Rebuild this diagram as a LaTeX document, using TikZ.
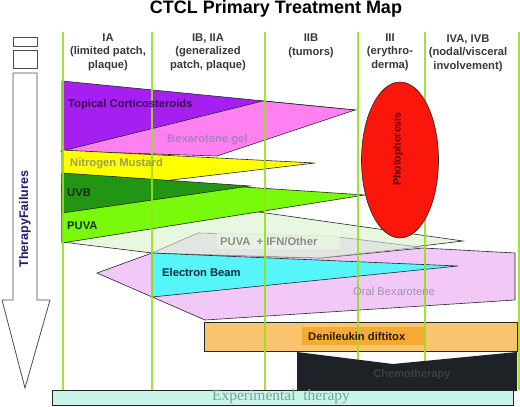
\documentclass[tikz,border=0pt]{standalone}
\usepackage{fontspec}
\setmainfont{Liberation Sans}
\newfontfamily\expfont{Liberation Serif}
\usepackage{xcolor}
\usepackage{tikz}
\usetikzlibrary{positioning}

\definecolor{gridgreen}{RGB}{150,225,30}
\definecolor{cortviolet}{RGB}{165,32,240}
\definecolor{gelpink}{RGB}{255,128,240}
\definecolor{mustyellow}{RGB}{255,255,0}
\definecolor{uvbgreen}{RGB}{34,150,20}
\definecolor{puvalime}{RGB}{120,250,10}
\definecolor{ifnpale}{RGB}{232,247,224}
\definecolor{ifngray}{RGB}{226,229,226}
\definecolor{ebcyan}{RGB}{85,245,250}
\definecolor{oralpink}{RGB}{241,200,246}
\definecolor{denorange}{RGB}{251,196,110}
\definecolor{denlabel}{RGB}{246,170,52}
\definecolor{chemoblack}{RGB}{30,34,38}
\definecolor{expmint}{RGB}{200,245,232}
\definecolor{photored}{RGB}{250,22,10}

\tikzset{
    band/.style={draw=black!85, line width=0.6pt},
    stage/.style={align=center, font=\bfseries\fontsize{11.2}{13.5}\selectfont, text=black!78, inner sep=0pt},
    drug/.style={anchor=west, font=\bfseries\fontsize{11.2}{12}\selectfont, inner sep=0pt},
    gridline/.style={draw=gridgreen, line width=1.1pt, opacity=0.9}
}

\begin{document}
\begin{tikzpicture}[x=1pt, y=-1pt]
    \useasboundingbox (0,0) rectangle (520,407);

    % 1. Title and stage headers
    \node[font=\bfseries\fontsize{18}{20}\selectfont] (title) at (276,9) {CTCL Primary Treatment Map};
    \node[stage] (ia)   at (108,52) {IA\\(limited patch,\\plaque)};
    \node[stage] (ib)   at (208,52) {IB, IIA\\(generalized\\patch, plaque)};
    \node[stage] (iib)  at (311,46) {IIB\\(tumors)};
    \node[stage] (iii)  at (390,52) {III\\(erythro-\\derma)};
    \node[stage] (iv)   at (468,53) {IVA, IVB\\(nodal/visceral\\involvement)};

    % 2. Left boxes and arrow
    \draw[draw=black!70, line width=0.8pt] (13,37) rectangle (37,46);
    \draw[draw=black!70, line width=0.8pt] (13,50) rectangle (37,68);
    \draw[draw=black!70, line width=0.8pt, fill=white]
        (13,73) -- (37,73) -- (37,300) -- (50,300) -- (25,388) -- (2,300) -- (13,300) -- cycle;
    \node[rotate=90, font=\bfseries\fontsize{12.5}{14}\selectfont, text={rgb,255:red,30;green,30;blue,105}] (fail) at (25,219) {TherapyFailures};

    % 3. Skin directed therapies
    \fill[cortviolet, band] (62,81) -- (355,110) -- (62,152) -- cycle;
    \fill[gelpink, band] (62,151) -- (263,101) -- (355,110) -- (217,156) -- cycle;
    \fill[mustyellow, band] (62,150) -- (315,163) -- (62,193) -- cycle;
    \fill[ifnpale, band] (62,184) -- (463,241) -- (320,258) -- (152,253) -- (62,242) -- cycle;
    \fill[puvalime, band] (62,175) -- (365,195) -- (62,243) -- cycle;
    \fill[uvbgreen, band] (62,173) -- (250,186) -- (62,213) -- cycle;

    % 4. Systemic therapies
    \fill[oralpink, band] (97,273) -- (152,253) -- (320,258) -- (423,248) -- (515,253)
        -- (515,300) -- (205,320) -- cycle;
    \fill[ifngray, draw=black!40, line width=0.6pt] (152,253) -- (198,233) -- (330,236) -- (420,247) -- (320,258) -- cycle;
    \fill[ifnpale, opacity=0.8] (217,232) rectangle (340,249);
    \fill[ebcyan, band] (152,253) -- (458,266) -- (152,297) -- cycle;
    \fill[denorange, band] (204,322) rectangle (517,351);
    \fill[denlabel] (302,327) rectangle (425,345);

    % 5. Stage boundaries
    \foreach \xx in {63,152,265,358,425,519}
        \draw[gridline] (\xx,32) -- (\xx,390);

    % 6. Photopheresis, chemotherapy, experimental therapy
    \fill[photored, band] (400,160) ellipse [x radius=38.5, y radius=78];
    \fill[chemoblack] (297,352) -- (393,364) -- (517,352) -- (517,391) -- (297,391) -- cycle;
    \fill[expmint, band] (52,390) rectangle (513,405);

    % 7. Therapy labels
    \node[drug, text={rgb,255:red,60;green,0;blue,85}] (cort) at (68,105) {Topical Corticosteroids};
    \node[drug, text={rgb,255:red,176;green,122;blue,196}] (gel) at (167,140) {Bexarotene gel};
    \node[drug, text={rgb,255:red,156;green,156;blue,90}] (must) at (70,164) {Nitrogen Mustard};
    \node[drug, text={rgb,255:red,16;green,40;blue,10}] (uvb) at (67,193) {UVB};
    \node[drug, text={rgb,255:red,20;green,50;blue,0}] (puva) at (67,226) {PUVA};
    \node[drug, text={rgb,255:red,140;green,140;blue,140}] (ifn) at (220,242) {PUVA \ + IFN/Other};
    \node[drug, text={rgb,255:red,10;green,40;blue,64}] (eb) at (162,272) {Electron Beam};
    \node[drug, font=\fontsize{11.2}{12}\selectfont, text={rgb,255:red,160;green,148;blue,176}] (oral) at (353,291) {Oral Bexarotene};
    \node[drug, text={rgb,255:red,42;green,26;blue,0}] (deni) at (308,336) {Denileukin diftitox};
    \node[rotate=90, font=\bfseries\fontsize{10.5}{12}\selectfont, text={rgb,255:red,70;green,0;blue,0}] (photo) at (398,149) {Photopheresis};
    \node[font=\bfseries\fontsize{11}{12}\selectfont, text={rgb,255:red,58;green,64;blue,70}] (chemo) at (412,375) {Chemotherapy};
    \node[font=\expfont\fontsize{15.5}{16}\selectfont, text={rgb,255:red,122;green,160;blue,160}] (exp) at (281,397) {Experimental \ therapy};
\end{tikzpicture}
\end{document}
